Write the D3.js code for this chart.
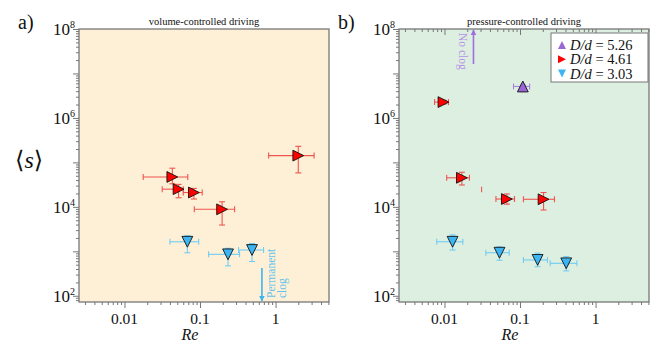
<!DOCTYPE html>
<html>
<head>
<meta charset="utf-8">
<script src="https://cdn.jsdelivr.net/npm/d3@7"></script>
<style>
body { margin: 0; background: #fff; }
text { font-family: "Liberation Serif", "DejaVu Serif", serif; fill: #111; }
</style>
</head>
<body>
<div id="chart"></div>
<script>
// rows: [Re, s, ReLow, ReHigh, sHigh, sLow]
var volRed = [
  [2.0, 1.42e5, 0.81, 3.24, 2.3e5, 5.8e4],
  [0.043, 4.7e4, 0.0177, 0.0688, 7.4e4, 3.3e4],
  [0.052, 2.5e4, 0.0316, 0.060, 3.2e4, 1.6e4],
  [0.083, 2.1e4, 0.060, 0.107, 2.6e4, 1.5e4],
  [0.196, 8.8e3, 0.084, 0.287, 1.3e4, 3.9e3]
];
var volBlue = [
  [0.068, 1.64e3, 0.040, 0.096, 2.24e3, 930],
  [0.235, 855, 0.13, 0.334, 1.17e3, 470],
  [0.488, 1070, 0.324, 0.694, 1.5e3, 590]
];
var pressPurple = [
  [0.109, 5.1e6, 0.082, 0.134, 5.5e6, 3.9e6]
];
var pressRed = [
  [0.0097, 2.27e6, 0.0074, 0.0113, 2.5e6, 2.05e6],
  [0.017, 4.5e4, 0.0107, 0.0214, 6.0e4, 3.1e4],
  [0.067, 1.5e4, 0.048, 0.0845, 1.95e4, 1.15e4],
  [0.205, 1.48e4, 0.111, 0.286, 2.1e4, 8.5e3]
];
// lone vertical error bar without marker: [Re, sHigh, sLow]
var pressRedStray = [[0.031, 2.85e4, 2.14e4]];
var pressBlue = [
  [0.0128, 1.64e3, 0.0079, 0.0175, 2.34e3, 1.07e3],
  [0.0535, 930, 0.0353, 0.072, 1.26e3, 630],
  [0.171, 640, 0.111, 0.231, 910, 450],
  [0.409, 537, 0.251, 0.567, 760, 363]
];
var legendLabels = ["5.26", "4.61", "3.03"];
var xTicks = [0.01, 0.1, 1];
var xTickLabels = ["0.01", "0.1", "1"];
var yTicks = [1e2, 1e4, 1e6, 1e8];
var yTickExp = ["2", "4", "6", "8"];
var clogRe = 0.66;
var noClogRe = 0.0242;

var W = 665, H = 351;
var plotTop = 29, plotBottom = 302;
var svg = d3.select("#chart").append("svg")
  .attr("width", W).attr("height", H);

var colors = {
  red: {fill: "#ff0000", err: "#f0544f"},
  blue: {fill: "#3db5f2", err: "#72ccf3"},
  purple: {fill: "#9a66d6", err: "#a982dc"}
};

function triPath(dir, r) {
  if (dir == "up") return "M0," + (-r) + "L" + (-r) + "," + r + "L" + r + "," + r + "Z";
  if (dir == "down") return "M0," + r + "L" + (-r) + "," + (-r) + "L" + r + "," + (-r) + "Z";
  return "M" + r + ",0L" + (-r) + "," + (-r) + "L" + (-r) + "," + r + "Z";
}

// minor + major log ticks
function logTicks(lo, hi) {
  var major = [], minor = [];
  for (var e = -4; e <= 9; e++) {
    var p = Math.pow(10, e);
    if (p >= lo && p <= hi) major.push(p);
    for (var m = 2; m <= 9; m++) {
      if (m * p >= lo && m * p <= hi) minor.push(m * p);
    }
  }
  return {major: major, minor: minor};
}

function drawPanel(x0, x1, bg, title, letter, series, topTicks) {
  var x = d3.scaleLog().domain([0.0025, 5.1]).range([x0, x1]);
  var y = d3.scaleLog().domain([Math.pow(10, 1.86), 1e8]).range([plotBottom, plotTop]);
  var g = svg.append("g");

  g.append("rect").attr("x", x0).attr("y", plotTop)
    .attr("width", x1 - x0).attr("height", plotBottom - plotTop)
    .attr("fill", bg);

  var xt = logTicks(0.0025, 5.1);
  var yt = logTicks(Math.pow(10, 1.86), 1e8);

  function styleAxis(sel) {
    sel.select(".domain").remove();
    sel.selectAll("line").attr("stroke", "#777").attr("stroke-width", 1);
  }
  g.append("g").attr("transform", "translate(0," + plotBottom + ")")
    .call(d3.axisBottom(x).tickValues(xt.minor).tickSize(3).tickFormat("")).call(styleAxis);
  g.append("g").attr("transform", "translate(0," + plotBottom + ")")
    .call(d3.axisBottom(x).tickValues(xt.major).tickSize(6).tickFormat("")).call(styleAxis);
  g.append("g").attr("transform", "translate(" + x0 + ",0)")
    .call(d3.axisLeft(y).tickValues(yt.minor).tickSize(3).tickFormat("")).call(styleAxis);
  g.append("g").attr("transform", "translate(" + x0 + ",0)")
    .call(d3.axisLeft(y).tickValues(yt.major).tickSize(6).tickFormat("")).call(styleAxis);
  if (topTicks) {
    g.append("g").attr("transform", "translate(0," + plotTop + ")")
      .call(d3.axisBottom(x).tickValues(xt.minor).tickSize(3).tickFormat("")).call(styleAxis);
    g.append("g").attr("transform", "translate(0," + plotTop + ")")
      .call(d3.axisBottom(x).tickValues(xt.major).tickSize(6).tickFormat("")).call(styleAxis);
  }

  g.append("rect").attr("x", x0).attr("y", plotTop)
    .attr("width", x1 - x0).attr("height", plotBottom - plotTop)
    .attr("fill", "none").attr("stroke", "#777").attr("stroke-width", 1.3);

  // tick labels
  g.selectAll(".xl").data(xTicks).enter().append("text")
    .attr("x", function(d) { return x(d); })
    .attr("y", plotBottom + 22)
    .attr("text-anchor", "middle")
    .style("font-size", "15.5px")
    .text(function(d, i) { return xTickLabels[i]; });
  var yl = g.selectAll(".yl").data(yTicks).enter().append("text")
    .attr("x", x0 - 4)
    .attr("y", function(d) { return y(d) + 6; })
    .attr("text-anchor", "end")
    .style("font-size", "17px");
  yl.append("tspan").text("10");
  yl.append("tspan").attr("dy", -7).style("font-size", "10px")
    .text(function(d, i) { return yTickExp[i]; });

  g.append("text").attr("x", x0 + 111).attr("y", 340)
    .attr("text-anchor", "middle")
    .style("font-size", "16px").style("font-style", "italic")
    .text("Re");
  g.append("text").attr("x", (x0 + x1) / 2).attr("y", 25)
    .attr("text-anchor", "middle")
    .style("font-size", "10.5px")
    .text(title);
  g.append("text").attr("x", x0 - 61).attr("y", 29)
    .style("font-size", "20px")
    .text(letter);

  // error bars + markers
  series.forEach(function(s) {
    var c = colors[s.color];
    var eg = g.append("g").attr("stroke", c.err).attr("stroke-width", 1.1).attr("fill", "none");
    s.data.forEach(function(d) {
      var px = x(d[0]), py = y(d[1]);
      eg.append("line").attr("x1", x(d[2])).attr("x2", x(d[3])).attr("y1", py).attr("y2", py);
      eg.append("line").attr("x1", x(d[2])).attr("x2", x(d[2])).attr("y1", py - 3).attr("y2", py + 3);
      eg.append("line").attr("x1", x(d[3])).attr("x2", x(d[3])).attr("y1", py - 3).attr("y2", py + 3);
      eg.append("line").attr("x1", px).attr("x2", px).attr("y1", y(d[4])).attr("y2", y(d[5]));
      eg.append("line").attr("x1", px - 3).attr("x2", px + 3).attr("y1", y(d[4])).attr("y2", y(d[4]));
      eg.append("line").attr("x1", px - 3).attr("x2", px + 3).attr("y1", y(d[5])).attr("y2", y(d[5]));
    });
    (s.stray || []).forEach(function(d) {
      eg.append("line").attr("x1", x(d[0])).attr("x2", x(d[0])).attr("y1", y(d[1])).attr("y2", y(d[2]));
    });
    g.selectAll(null).data(s.data).enter().append("path")
      .attr("transform", function(d) { return "translate(" + x(d[0]) + "," + y(d[1]) + ")"; })
      .attr("d", triPath(s.dir, 5.4))
      .attr("fill", c.fill)
      .attr("stroke", "#111").attr("stroke-width", 0.9);
  });

  return {x: x, y: y, g: g};
}

var left = drawPanel(79, 329, "#fdf0d6", "volume-controlled driving", "a)", [
  {data: volRed, color: "red", dir: "right"},
  {data: volBlue, color: "blue", dir: "down"}
], false);

var right = drawPanel(399, 649, "#ddefe1", "pressure-controlled driving", "b)", [
  {data: pressPurple, color: "purple", dir: "up"},
  {data: pressRed, color: "red", dir: "right", stray: pressRedStray},
  {data: pressBlue, color: "blue", dir: "down"}
], true);

// y label
var sl = svg.append("text").attr("x", 15).attr("y", 168).style("font-size", "24px");
sl.append("tspan").text("\u27E8");
sl.append("tspan").style("font-style", "italic").text("s");
sl.append("tspan").text("\u27E9");

// arrow marker defs
var defs = svg.append("defs");
function arrowHead(id, col) {
  defs.append("marker").attr("id", id)
    .attr("viewBox", "0 0 10 10").attr("refX", 9).attr("refY", 5)
    .attr("markerWidth", 6).attr("markerHeight", 6)
    .attr("markerUnits", "userSpaceOnUse")
    .attr("orient", "auto")
    .append("path").attr("d", "M0,0L10,5L0,10Z").attr("fill", col);
}
arrowHead("ablue", "#3db5f2");
arrowHead("apurple", "#a070e0");

// permanent clog
var cx = left.x(clogRe);
svg.append("line").attr("x1", cx).attr("x2", cx).attr("y1", 268).attr("y2", 301)
  .attr("stroke", "#3db5f2").attr("stroke-width", 1.6).attr("marker-end", "url(#ablue)");
var ct = svg.append("text").attr("transform", "translate(" + (cx + 13) + ",298) rotate(-90)")
  .style("font-size", "11.5px").style("fill", "#62c2ee");
ct.append("tspan").attr("x", 0).attr("y", 0).text("Permanent");
ct.append("tspan").attr("x", 0).attr("y", 11).text("clog");

// no clog
var nx = right.x(noClogRe);
svg.append("line").attr("x1", nx).attr("x2", nx).attr("y1", 64).attr("y2", 30)
  .attr("stroke", "#a070e0").attr("stroke-width", 1.6).attr("marker-end", "url(#apurple)");
svg.append("text").attr("transform", "translate(" + (nx - 14) + ",33) rotate(90)")
  .style("font-size", "11.5px").style("fill", "#b891e6")
  .text("No clog");

// legend
var lg = svg.append("g");
lg.append("rect").attr("x", 551).attr("y", 33).attr("width", 97).attr("height", 49)
  .attr("fill", "#fff").attr("stroke", "#777").attr("stroke-width", 1);
var legendItems = [
  {color: "purple", dir: "up"},
  {color: "red", dir: "right"},
  {color: "blue", dir: "down"}
];
legendItems.forEach(function(it, i) {
  var ly = 45 + i * 14.3;
  lg.append("path").attr("transform", "translate(562," + ly + ")")
    .attr("d", triPath(it.dir, 4))
    .attr("fill", colors[it.color].fill);
  var t = lg.append("text").attr("x", 570).attr("y", ly + 5).style("font-size", "14.5px");
  t.append("tspan").style("font-style", "italic").text("D/d");
  t.append("tspan").text(" = " + legendLabels[i]);
});
</script>
</body>
</html>
